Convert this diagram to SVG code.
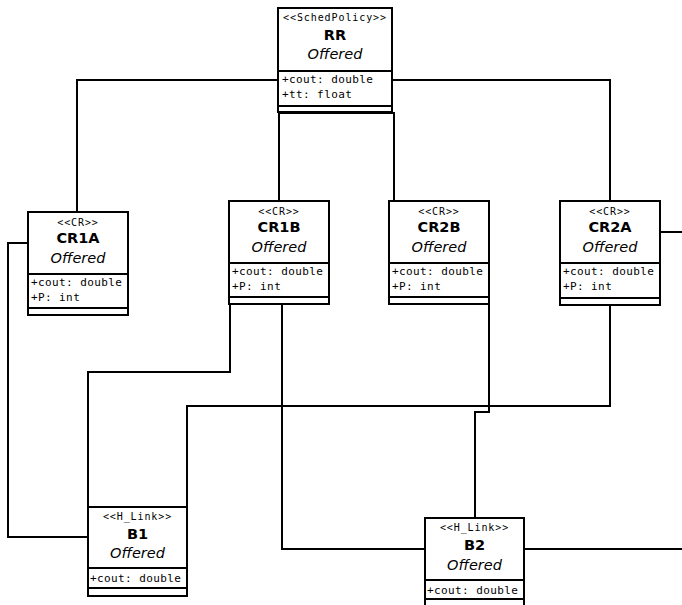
<svg xmlns="http://www.w3.org/2000/svg" width="682" height="605" viewBox="0 0 682 605">
<style>
.box{fill:#fff;stroke:#000;stroke-width:2}
.ln{fill:none;stroke:#000;stroke-width:2}
.st{font-family:"DejaVu Sans Mono",monospace;font-size:10px;letter-spacing:0.9px;text-anchor:middle}
.nm{font-family:"DejaVu Sans",sans-serif;font-size:14.5px;font-weight:bold;text-anchor:middle}
.of{font-family:"DejaVu Sans",sans-serif;font-size:14.5px;font-style:italic;text-anchor:middle}
.at{font-family:"DejaVu Sans Mono",monospace;font-size:11px;letter-spacing:0.4px}
</style>
<rect width="682" height="605" fill="#fff"/>
<g id="connectors">
<path class="ln" d="M77,211 V80 H278"/>
<path class="ln" d="M392,80 H610 V201"/>
<path class="ln" d="M279,112 V201"/>
<path class="ln" d="M279,113 H394 V201"/>
<path class="ln" d="M28,243 H8 V537 H88"/>
<path class="ln" d="M230,305 V372 H88 V507"/>
<path class="ln" d="M282,305 V549 H425"/>
<path class="ln" d="M489,305 V412 H475 V518"/>
<path class="ln" d="M610,305 V406 H187 V507"/>
<path class="ln" d="M660,232 H682"/>
<path class="ln" d="M524,549 H682"/>
</g>
<g id="RR">
<rect class="box" x="278" y="8" width="114" height="104"/>
<line class="ln" x1="278" y1="71" x2="392" y2="71"/>
<line class="ln" x1="278" y1="106" x2="392" y2="106"/>
<text class="st" x="335" y="21">&lt;&lt;SchedPolicy&gt;&gt;</text>
<text class="nm" x="335" y="40">RR</text>
<text class="of" x="335" y="59">Offered</text>
<text class="at" x="282" y="83">+cout: double</text>
<text class="at" x="282" y="98">+tt: float</text>
</g>
<g id="CR1A">
<rect class="box" x="28" y="212" width="100" height="103"/>
<line class="ln" x1="28" y1="274" x2="128" y2="274"/>
<line class="ln" x1="28" y1="308" x2="128" y2="308"/>
<text class="st" x="78" y="226">&lt;&lt;CR&gt;&gt;</text>
<text class="nm" x="78" y="243">CR1A</text>
<text class="of" x="78" y="263">Offered</text>
<text class="at" x="31" y="286">+cout: double</text>
<text class="at" x="31" y="301">+P: int</text>
</g>
<g id="CR1B">
<rect class="box" x="229" y="201" width="100" height="103"/>
<line class="ln" x1="229" y1="263" x2="329" y2="263"/>
<line class="ln" x1="229" y1="297" x2="329" y2="297"/>
<text class="st" x="279" y="215">&lt;&lt;CR&gt;&gt;</text>
<text class="nm" x="279" y="232">CR1B</text>
<text class="of" x="279" y="252">Offered</text>
<text class="at" x="232" y="275">+cout: double</text>
<text class="at" x="232" y="290">+P: int</text>
</g>
<g id="CR2B">
<rect class="box" x="389" y="201" width="100" height="103"/>
<line class="ln" x1="389" y1="263" x2="489" y2="263"/>
<line class="ln" x1="389" y1="297" x2="489" y2="297"/>
<text class="st" x="439" y="215">&lt;&lt;CR&gt;&gt;</text>
<text class="nm" x="439" y="232">CR2B</text>
<text class="of" x="439" y="252">Offered</text>
<text class="at" x="392" y="275">+cout: double</text>
<text class="at" x="392" y="290">+P: int</text>
</g>
<g id="CR2A">
<rect class="box" x="560" y="201" width="100" height="104"/>
<line class="ln" x1="560" y1="263" x2="660" y2="263"/>
<line class="ln" x1="560" y1="298" x2="660" y2="298"/>
<text class="st" x="610" y="215">&lt;&lt;CR&gt;&gt;</text>
<text class="nm" x="610" y="232">CR2A</text>
<text class="of" x="610" y="252">Offered</text>
<text class="at" x="563" y="275">+cout: double</text>
<text class="at" x="563" y="290">+P: int</text>
</g>
<g id="B1">
<rect class="box" x="88" y="507" width="99" height="89"/>
<line class="ln" x1="88" y1="568" x2="187" y2="568"/>
<line class="ln" x1="88" y1="588" x2="187" y2="588"/>
<text class="st" x="137.5" y="520">&lt;&lt;H_Link&gt;&gt;</text>
<text class="nm" x="137.5" y="539">B1</text>
<text class="of" x="137.5" y="558">Offered</text>
<text class="at" x="90" y="582">+cout: double</text>
</g>
<g id="B2">
<rect class="box" x="425" y="518" width="99" height="90"/>
<line class="ln" x1="425" y1="580" x2="524" y2="580"/>
<line class="ln" x1="425" y1="599" x2="524" y2="599"/>
<text class="st" x="474.5" y="531">&lt;&lt;H_Link&gt;&gt;</text>
<text class="nm" x="474.5" y="550">B2</text>
<text class="of" x="474.5" y="570">Offered</text>
<text class="at" x="427" y="594">+cout: double</text>
</g>
</svg>
